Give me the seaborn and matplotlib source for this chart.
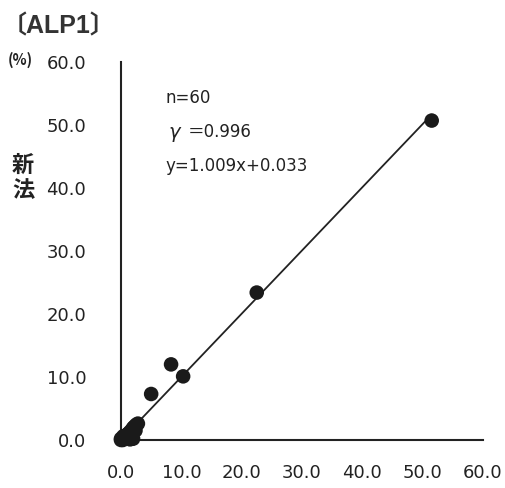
import matplotlib
matplotlib.use("Agg")
import matplotlib.pyplot as plt
import seaborn as sns
import pandas as pd

title = "〔ALP1〕"
ylabel = "新\n法"
unit = "(%)"
stats = ["n=60", "γ", "＝0.996", "y=1.009x+0.033"]
ticks = [0, 10, 20, 30, 40, 50, 60]
tick_labels = ["0.0", "10.0", "20.0", "30.0", "40.0", "50.0", "60.0"]

old_method = [51.5, 22.5, 10.3, 8.3, 5.0, 0.0, 0.2, 0.5, 0.8, 1.0, 1.2, 1.5,
              1.8, 2.0, 2.2, 2.5, 2.8, 2.0, 1.5, 0.3, 0.0, 0.4, 1.1, 2.4]
new_method = [50.7, 23.4, 10.1, 12.0, 7.3, 0.0, 0.1, 0.3, 0.5, 0.8, 1.0, 1.3,
              1.6, 1.9, 2.1, 2.4, 2.6, 0.2, 0.1, 0.0, 0.2, 0.6, 0.9, 1.5]

df = pd.DataFrame({"old": old_method, "new": new_method})

sns.set_theme(style="white")
plt.rcParams['font.family'] = ['DejaVu Sans', 'Noto Sans CJK JP']
txt = "#222222"

fig = plt.figure(figsize=(5.05, 4.88), dpi=100)
ax = fig.add_axes([0.2396, 0.0984, 0.7168, 0.7746])

sns.regplot(data=df, x="old", y="new", ax=ax, scatter=False, ci=None,
            truncate=True, line_kws=dict(color="#222222", lw=1.3))
sns.scatterplot(data=df, x="old", y="new", ax=ax, s=110, color="#1a1a1a",
                edgecolor="none", clip_on=False, zorder=5)

ax.set_xlim(0, 60)
ax.set_ylim(0, 60)
ax.set_xticks(ticks)
ax.set_yticks(ticks)
ax.set_xticklabels(tick_labels, fontsize=13, color=txt)
ax.set_yticklabels(tick_labels, fontsize=13, color=txt)
ax.tick_params(axis="x", length=0, pad=17)
ax.tick_params(axis="y", length=0, pad=25)
ax.set_xlabel("")
ax.set_ylabel("")
for side in ["top", "right"]:
    ax.spines[side].set_visible(False)
for side in ["left", "bottom"]:
    ax.spines[side].set_color("#222222")
    ax.spines[side].set_linewidth(1.5)

fig.text(0.004, 0.947, title, fontsize=18, fontweight="bold", color="#333333",
         ha="left", va="center", family=['Liberation Sans', 'Noto Sans CJK JP'])
fig.text(0.016, 0.877, unit, fontsize=10.5, fontweight="bold", color=txt,
         ha="left", va="center", family=['Noto Sans CJK JP'])
fig.text(0.046, 0.635, ylabel, fontsize=16, fontweight="bold", color=txt,
         ha="center", va="center", linespacing=1.15,
         family=['Noto Sans CJK JP', 'DejaVu Sans'])

fig.text(0.327, 0.799, stats[0], fontsize=12, color=txt, ha="left", va="center")
fig.text(0.333, 0.729, stats[1], fontsize=14, fontstyle="italic", color=txt,
         ha="left", va="center")
fig.text(0.372, 0.729, stats[2], fontsize=12, color=txt, ha="left", va="center",
         family=['DejaVu Sans', 'Noto Sans CJK JP'])
fig.text(0.327, 0.659, stats[3], fontsize=12, color=txt, ha="left", va="center")

fig.savefig("out.png", dpi=100)
